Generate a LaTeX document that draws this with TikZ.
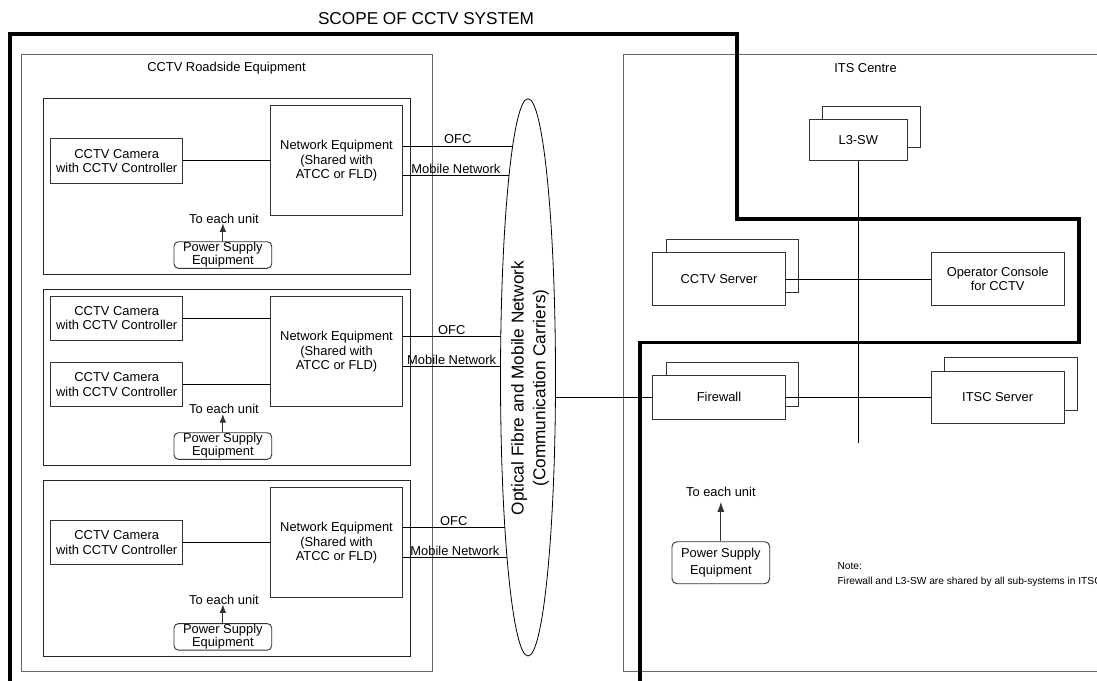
\documentclass[tikz,border=0pt]{standalone}
\usepackage{fontspec}
\setmainfont{Liberation Sans}
\usetikzlibrary{shapes.geometric,arrows.meta,calc}
\newcommand\ftxt{\fontsize{12.9}{14.5}\selectfont}
\newcommand\fpow{\fontsize{12.9}{11}\selectfont}
\newcommand\fbig{\fontsize{17.2}{21.7}\selectfont}
\newcommand\fnote{\fontsize{10.2}{12}\selectfont}
\tikzset{
  grp/.style={draw=black!60, line width=0.9pt, inner sep=0pt},
  box/.style={draw=black!80, line width=0.9pt, fill=white, inner sep=0pt, align=center, font=\ftxt},
  powbox/.style={box, rounded corners=4.5pt, font=\fpow, minimum width=97.7, minimum height=26.6},
  cam/.style={box, minimum width=132, minimum height=44.3},
  netw/.style={box, minimum width=131.6, minimum height=110},
  ubox/.style={draw=black!85, line width=0.9pt, inner sep=0pt, minimum width=366.7, minimum height=176},
  txt/.style={inner sep=0pt, font=\ftxt},
  conn/.style={draw=black, line width=0.8pt},
  lbl/.style={inner sep=1.6pt, font=\ftxt},
  arr/.style={draw=black!80, line width=0.9pt, -{Latex[length=8.5pt,width=6.5pt]}},
  scopeline/.style={draw=black, line width=3.8pt, line join=miter},
}
\begin{document}
\begin{tikzpicture}[x=1pt,y=-1pt]
\useasboundingbox (0,0) rectangle (1097,680);
\fill[white] (0,0) rectangle (1097,680);

% title
\node[inner sep=0pt, font=\fbig] (scopet) at (426,18.3) {SCOPE OF CCTV SYSTEM};

% group boxes
\node[grp, minimum width=411, minimum height=616.7] (rsd) at (226.5,362.65) {};
\node[txt] (rsdt) at (226.5,67.7) {CCTV Roadside Equipment};
\node[grp, minimum width=483.6, minimum height=616.7] (its) at (865.5,362.65) {};
\node[txt] (itst) at (865.5,67.7) {ITS Centre};

% unit boxes
\node[ubox] (u1) at (226.65,186.7) {};
\node[ubox] (u2) at (226.65,377.5) {};
\node[ubox] (u3) at (226.65,568.2) {};

% cameras
\node[cam] (c1) at (116.7,160.85) {CCTV Camera\\with CCTV Controller};
\node[cam] (c2a) at (116.7,318.15) {CCTV Camera\\with CCTV Controller};
\node[cam] (c2b) at (116.7,384.7) {CCTV Camera\\with CCTV Controller};
\node[cam] (c3) at (116.7,542.5) {CCTV Camera\\with CCTV Controller};

% network equipment
\node[netw] (n1) at (336.5,160.85) {Network Equipment\\(Shared with\\ATCC or FLD)};
\node[netw] (n2) at (336.5,351.7) {Network Equipment\\(Shared with\\ATCC or FLD)};
\node[netw] (n3) at (336.5,542.7) {Network Equipment\\(Shared with\\ATCC or FLD)};

% camera - network links
\draw[conn] (c1.east) -- (c1.east -| n1.west);
\draw[conn] (c2a.east) -- (c2a.east -| n2.west);
\draw[conn] (c2b.east) -- (c2b.east -| n2.west);
\draw[conn] (c3.east) -- (c3.east -| n3.west);

% power supply units
\node[powbox] (p1) at (222.85,255) {Power Supply\\Equipment};
\node[powbox] (p2) at (222.85,446) {Power Supply\\Equipment};
\node[powbox] (p3) at (222.85,636.85) {Power Supply\\Equipment};
\node[txt, anchor=base] (t1) at (224,223) {To each unit};
\node[txt, anchor=base] (t2) at (224,413.7) {To each unit};
\node[txt, anchor=base] (t3) at (224,604) {To each unit};
\draw[arr] (p1.north) -- (p1.north |- t1.south);
\draw[arr] (p2.north) -- (p2.north |- t2.south);
\draw[arr] (p3.north) -- (p3.north |- t3.south);

% carrier network ellipse
\node[draw=black, line width=0.8pt, ellipse, minimum width=55, minimum height=557.3, inner sep=0pt] (ell) at (528,377.35) {};
\node[inner sep=0pt, font=\fbig, align=center, rotate=90] (ellt) at (530,388) {Optical Fibre and Mobile Network\\(Communication Carriers)};

\coordinate (e1o) at (512.7,146);
\coordinate (e1m) at (509.0,175.7);
\coordinate (e2o) at (500.8,336.7);
\coordinate (e2m) at (500.5,366.4);
\coordinate (e3o) at (504.8,527.7);
\coordinate (e3m) at (507.0,557.4);
\coordinate (efw) at (555.4,397.3);

\draw[conn] (n1.east |- e1o) -- (e1o) node[lbl, midway, above] (l1o) {OFC};
\draw[conn] (n1.east |- e1m) -- (e1m) node[lbl, midway, above] (l1m) {Mobile Network};
\draw[conn] (n2.east |- e2o) -- (e2o) node[lbl, midway, above] (l2o) {OFC};
\draw[conn] (n2.east |- e2m) -- (e2m) node[lbl, midway, above] (l2m) {Mobile Network};
\draw[conn] (n3.east |- e3o) -- (e3o) node[lbl, midway, above] (l3o) {OFC};
\draw[conn] (n3.east |- e3m) -- (e3m) node[lbl, midway, above] (l3m) {Mobile Network};

% ITS centre equipment
\node[box, minimum width=98, minimum height=41.4] (l3b) at (871.6,126.7) {};
\node[box, minimum width=98, minimum height=41.4] (l3) at (858.3,140) {L3-SW};
\coordinate (vend) at (858.3,443.3);
\draw[conn] (l3.south) -- (vend);

\node[box, minimum width=132.6, minimum height=52.6] (srvb) at (732.3,265.7) {};
\node[box, minimum width=132.6, minimum height=52.6] (srv) at (719,279) {CCTV Server};
\node[box, minimum width=132.7, minimum height=53] (opc) at (997.65,278.8) {Operator Console\\for CCTV};
\draw[conn] (srv.east) -- (srv.east -| opc.west);

\node[box, minimum width=132.6, minimum height=44] (fwb) at (732.3,384) {};
\node[box, minimum width=132.6, minimum height=44] (fw) at (719,397.3) {Firewall};
\node[box, minimum width=132.7, minimum height=52.3] (itscb) at (1011,383.85) {};
\node[box, minimum width=132.7, minimum height=52.3] (itsc) at (997.65,397.15) {ITSC Server};
\draw[conn] (efw) -- (efw -| fw.west);
\draw[conn] (fw.east) -- (fw.east -| itsc.west);

% ITS power supply
\node[box, rounded corners=5pt, minimum width=97.7, minimum height=42, font=\fontsize{12.9}{16.6}\selectfont] (p4) at (720.85,562.7) {Power Supply\\Equipment};
\node[txt, anchor=base] (t4) at (720.85,496.5) {To each unit};
\draw[draw=black!80, line width=0.9pt, -{Latex[length=10pt,width=7pt]}, shorten >=5pt] (p4.north) -- (p4.north |- t4.south);

% note
\node[inner sep=0pt, anchor=base west, font=\fnote] (note1) at (837.3,569.3) {Note:};
\node[inner sep=0pt, anchor=base west, font=\fnote] (note2) at (837.3,584.3) {Firewall and L3-SW are shared by all sub-systems in ITSC};

% scope boundary
\draw[scopeline] (10,690) -- (10,34) -- (737,34) -- (737,219) -- (1078.7,219) -- (1078.7,342.5) -- (640,342.5) -- (640,690);
\end{tikzpicture}
\end{document}
